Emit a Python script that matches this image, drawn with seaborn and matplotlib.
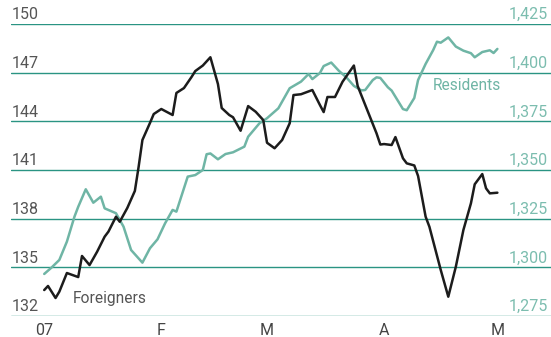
import numpy as np
import pandas as pd
import matplotlib
matplotlib.use("Agg")
import matplotlib.pyplot as plt
import matplotlib.transforms as mtransforms
import seaborn as sns

# Days since 1 January 2007 and index levels
foreign_day = [0, 1, 3, 4, 6, 9, 10, 12, 14, 16, 17, 19, 20, 22, 24, 25, 26, 28, 29, 31,
               34, 35, 37, 39, 40, 42, 44, 46, 47, 49, 50, 52, 54, 56, 58, 59, 61, 63, 65, 66,
               68, 71, 73, 74, 75, 77, 79, 82, 83, 85, 88, 89, 90, 92, 93, 95, 96, 98, 99, 101,
               102, 105, 107, 109, 111, 113, 114, 116, 117, 118, 120]
foreign_val = [133.60, 133.85, 133.11, 133.50, 134.65, 134.40, 135.70, 135.14, 135.96, 136.89,
               137.20, 138.12, 137.81, 138.66, 139.71, 141.20, 142.85, 143.90, 144.45, 144.76,
               144.39, 145.75, 146.05, 146.73, 147.10, 147.44, 147.95, 146.30, 144.82, 144.39,
               144.25, 143.42, 144.94, 144.59, 144.08, 142.68, 142.34, 142.85, 143.88, 145.62,
               145.67, 145.93, 145.01, 144.57, 145.50, 145.50, 146.44, 147.44, 146.18, 145.01,
               143.26, 142.57, 142.60, 142.54, 143.03, 141.72, 141.41, 141.28, 140.63, 138.12,
               137.50, 134.84, 133.19, 135.04, 137.30, 138.95, 140.12, 140.75, 139.87, 139.56,
               139.60]

resident_day = [0, 2, 4, 6, 8, 9, 11, 13, 15, 16, 19, 21, 23, 26, 28, 30, 32, 34, 35, 38,
                40, 42, 43, 44, 46, 48, 50, 53, 54, 57, 59, 62, 65, 68, 70, 71, 73, 74, 76, 78,
                80, 82, 84, 85, 87, 88, 89, 91, 92, 95, 96, 98, 99, 101, 103, 104, 105, 107, 109,
                111, 113, 114, 116, 118, 119, 120]
resident_val = [1296.6, 1300.0, 1303.8, 1313.2, 1326.0, 1331.1, 1340.1, 1333.2, 1336.3, 1330.3,
                1327.8, 1320.9, 1308.9, 1302.4, 1309.8, 1314.4, 1322.6, 1329.5, 1328.6, 1346.6,
                1347.4, 1350.0, 1358.1, 1358.5, 1355.5, 1358.2, 1359.1, 1362.0, 1367.1, 1374.0,
                1376.6, 1381.7, 1392.0, 1395.4, 1399.3, 1396.7, 1399.8, 1403.4, 1405.2, 1401.0,
                1397.6, 1393.2, 1390.9, 1391.1, 1396.2, 1397.6, 1397.3, 1392.5, 1390.8, 1381.3,
                1380.7, 1387.0, 1396.2, 1404.5, 1411.6, 1415.9, 1415.4, 1418.1, 1413.4, 1411.3,
                1410.0, 1407.9, 1410.6, 1411.5, 1410.1, 1412.2]

left_ticks = [132, 135, 138, 141, 144, 147, 150]
right_ticks = [1275, 1300, 1325, 1350, 1375, 1400, 1425]
right_labels = ["1,275", "1,300", "1,325", "1,350", "1,375", "1,400", "1,425"]
month_starts = ["2007-01-01", "2007-02-01", "2007-03-01", "2007-04-01", "2007-05-01"]
month_labels = ["07", "F", "M", "A", "M"]

BLACK = "#1c1c1c"
TEAL_LINE = "#6fb5a5"
TEAL_TEXT = "#7cbdaf"
GRID = "#2a9483"
GRAY = "#555555"

sns.set_style("white")
plt.rcParams["font.family"] = ["Roboto", "DejaVu Sans"]

start = pd.Timestamp("2007-01-01")
foreign = pd.DataFrame({"date": start + pd.to_timedelta(foreign_day, unit="D"),
                        "value": foreign_val})
resident = pd.DataFrame({"date": start + pd.to_timedelta(resident_day, unit="D"),
                         "value": resident_val})

fig = plt.figure(figsize=(5.51, 3.37), dpi=100)
ax = fig.add_axes([11 / 551, 21 / 337, 540 / 551, 292 / 337])
ax2 = ax.twinx()

# Residents on the right scale, drawn underneath
sns.lineplot(data=resident, x="date", y="value", ax=ax2, color=TEAL_LINE, lw=1.8)
# Foreigners on the left scale, drawn on top
sns.lineplot(data=foreign, x="date", y="value", ax=ax, color=BLACK, lw=1.8)

ax.set_zorder(ax2.get_zorder() + 1)
ax.patch.set_visible(False)
ax2.patch.set_visible(True)
ax2.patch.set_facecolor("white")

ax.set_ylim(132, 150)
ax2.set_ylim(1275, 1425)
ax.set_xlim(start + pd.Timedelta(days=-8.8), start + pd.Timedelta(days=134.2))

for a in (ax, ax2):
    for s in a.spines.values():
        s.set_visible(False)
    a.set_ylabel("")
    a.set_xlabel("")
    a.set_yticks([])

for v in right_ticks:
    ax2.axhline(v, color=GRID, lw=1.0, zorder=0)

ax.set_xticks(pd.to_datetime(month_starts))
ax.set_xticklabels(month_labels)
ax.tick_params(axis="x", length=0, pad=5, labelsize=11.5, labelcolor="#454545")

lift = mtransforms.ScaledTranslation(0, 3.4 / 72, fig.dpi_scale_trans)
bl = mtransforms.blended_transform_factory(ax.transAxes, ax.transData)
for v in left_ticks:
    ax.text(0.002, v, str(v), transform=bl + lift,
            ha="left", va="baseline", fontsize=11.5, color=GRAY, clip_on=False)
bl2 = mtransforms.blended_transform_factory(ax2.transAxes, ax2.transData)
for v, lab in zip(right_ticks, right_labels):
    ax2.text(0.9944, v, lab, transform=bl2 + lift,
             ha="right", va="baseline", fontsize=11.5, color=TEAL_TEXT, clip_on=False)

ax.text(start + pd.Timedelta(days=7.6), 132.80, "Foreigners", ha="left", va="baseline",
        fontsize=11.2, color=GRAY)
ax2.text(start + pd.Timedelta(days=102.8), 1391.1, "Residents", ha="left", va="baseline",
         fontsize=11.2, color=TEAL_LINE)

fig.savefig("out.png", dpi=100, facecolor="white")
